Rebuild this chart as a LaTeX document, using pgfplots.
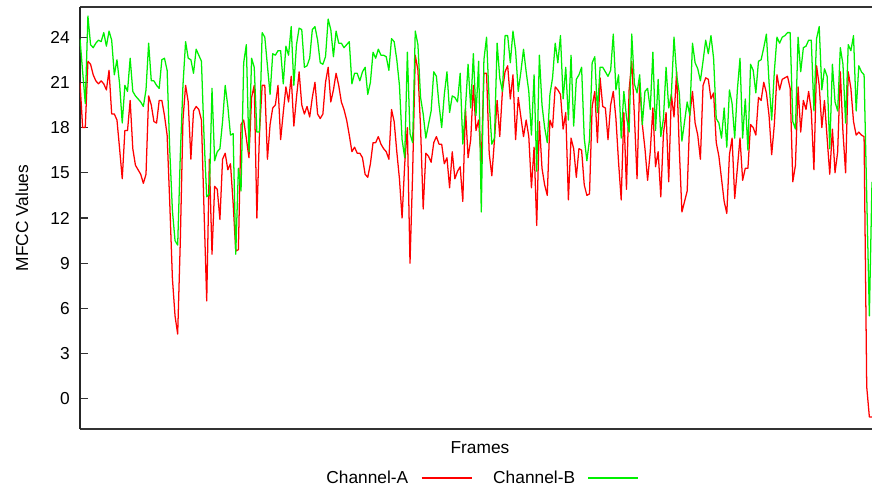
\documentclass[border=0pt]{standalone}
\usepackage{fontspec}
\setmainfont{Liberation Sans}
\usepackage{pgfplots}
\usepackage{pgfplotstable}
\pgfplotsset{compat=1.18}

\definecolor{chA}{RGB}{255,0,0}
\definecolor{chB}{RGB}{0,240,0}

% MFCC values per frame for the two channels
\pgfplotstableread{
f a b
0 21.0 23.9
1 18.0 21.7
2 18.0 19.6
3 22.4 25.4
4 22.2 23.5
5 21.5 23.3
6 21.1 23.6
7 20.9 23.8
8 21.1 23.7
9 20.9 24.3
10 20.5 23.4
11 21.8 24.4
12 18.9 23.8
13 18.9 21.5
14 18.5 22.5
15 16.6 20.9
16 14.6 18.3
17 17.8 20.8
18 17.8 20.4
19 19.8 22.6
20 16.6 20.4
21 15.5 20.1
22 15.2 19.9
23 14.9 19.7
24 14.3 19.4
25 14.9 20.5
26 20.1 23.6
27 19.5 21.1
28 18.4 21.1
29 18.3 20.8
30 19.8 20.6
31 19.8 22.5
32 18.8 22.6
33 17.5 21.8
34 13.0 16.5
35 8.0 12.5
36 5.5 10.5
37 4.3 10.2
38 10.5 16.2
39 18.5 20.8
40 20.8 23.7
41 19.7 22.6
42 15.9 22.5
43 19.1 21.6
44 19.4 23.2
45 19.2 22.8
46 18.5 22.4
47 12.4 17.3
48 6.5 13.4
49 15.9 13.6
50 9.6 20.6
51 14.1 15.8
52 13.9 16.4
53 11.9 16.6
54 15.9 18.4
55 16.3 20.8
56 15.2 19.4
57 15.6 17.5
58 13.0 17.6
59 9.8 9.6
60 9.9 15.3
61 18.2 13.8
62 18.5 22.3
63 17.3 23.5
64 16.0 16.4
65 20.0 22.6
66 20.8 22.0
67 12.0 17.7
68 17.7 17.7
69 20.8 24.3
70 20.8 24.0
71 15.9 22.1
72 18.2 20.2
73 19.3 22.9
74 19.5 22.8
75 20.8 23.1
76 17.2 23.1
77 19.0 20.9
78 20.7 23.4
79 19.7 22.8
80 21.4 24.7
81 18.1 20.8
82 20.0 23.5
83 21.7 24.6
84 19.5 24.5
85 18.9 22.0
86 19.4 22.1
87 18.7 22.6
88 20.0 24.5
89 21.0 24.7
90 18.9 23.8
91 18.6 22.3
92 18.9 22.2
93 21.0 22.7
94 22.0 25.2
95 19.7 24.5
96 20.5 22.7
97 21.6 24.4
98 20.8 23.6
99 19.7 23.6
100 19.2 23.3
101 18.5 23.5
102 17.5 23.7
103 16.4 20.9
104 16.7 21.6
105 16.3 21.6
106 16.3 21.1
107 16.0 21.7
108 14.9 22.0
109 14.7 20.2
110 15.6 21.0
111 17.0 23.0
112 17.0 22.6
113 17.4 23.2
114 16.9 22.8
115 16.6 22.8
116 16.4 22.7
117 15.9 21.8
118 19.2 23.9
119 18.4 23.7
120 16.4 22.5
121 14.6 20.8
122 12.0 17.2
123 15.6 16.0
124 18.0 23.0
125 9.0 17.6
126 15.0 17.0
127 22.8 24.4
128 21.8 23.5
129 18.0 20.0
130 12.6 18.9
131 16.3 17.3
132 16.1 18.2
133 15.7 19.1
134 17.0 21.7
135 17.4 21.4
136 16.9 19.5
137 16.9 18.0
138 15.6 20.2
139 16.0 21.7
140 14.0 19.0
141 16.4 20.1
142 14.6 20.0
143 15.1 19.7
144 15.4 21.6
145 13.1 16.9
146 19.3 19.3
147 16.0 22.2
148 17.2 19.3
149 20.8 22.9
150 17.8 18.8
151 18.5 22.4
152 15.7 12.4
153 21.6 22.5
154 21.6 24.0
155 16.3 19.7
156 14.8 16.9
157 17.2 17.3
158 19.8 23.6
159 17.4 21.3
160 20.4 20.4
161 21.7 24.1
162 22.1 24.1
163 19.9 22.3
164 21.5 24.4
165 17.2 23.1
166 20.0 20.4
167 18.7 21.7
168 17.4 23.2
169 18.5 21.7
170 17.4 20.4
171 14.0 17.5
172 16.7 21.5
173 11.5 15.1
174 18.4 22.8
175 15.3 19.5
176 14.2 18.0
177 13.5 17.0
178 18.5 20.2
179 18.0 21.3
180 20.7 23.6
181 20.5 22.3
182 20.2 24.1
183 17.9 19.9
184 19.0 22.0
185 13.2 18.5
186 17.3 22.8
187 16.6 18.1
188 14.7 21.2
189 16.6 21.5
190 16.5 22.0
191 14.2 17.3
192 13.5 15.8
193 13.6 17.2
194 19.4 22.3
195 20.4 22.7
196 17.0 19.0
197 21.3 22.0
198 19.4 22.0
199 19.3 21.7
200 17.2 21.4
201 19.5 21.8
202 20.4 24.2
203 18.6 20.5
204 15.7 21.5
205 13.2 17.3
206 19.0 20.4
207 13.9 18.7
208 20.5 17.7
209 22.4 24.2
210 18.8 20.9
211 14.6 20.3
212 21.0 21.5
213 18.2 18.2
214 16.6 20.4
215 14.5 20.6
216 16.4 19.2
217 19.3 23.0
218 15.4 17.8
219 16.4 21.2
220 13.4 17.4
221 17.6 18.6
222 19.0 22.0
223 14.4 19.3
224 20.2 20.2
225 18.7 24.0
226 21.7 21.5
227 16.6 20.3
228 12.4 17.1
229 13.1 18.4
230 13.8 19.7
231 18.8 18.8
232 20.4 23.6
233 18.3 22.3
234 17.5 21.9
235 15.9 21.1
236 20.8 22.4
237 21.3 23.8
238 21.2 22.9
239 19.9 24.1
240 20.3 22.6
241 17.0 18.6
242 16.1 18.3
243 14.6 17.3
244 13.1 19.3
245 12.3 16.7
246 16.2 20.5
247 17.3 19.6
248 13.3 17.3
249 15.3 20.5
250 17.3 22.6
251 14.5 17.3
252 15.3 19.9
253 15.3 16.5
254 18.2 22.2
255 18.0 21.8
256 17.5 20.3
257 20.0 22.4
258 19.8 22.5
259 21.0 23.3
260 20.3 24.2
261 18.8 21.0
262 16.2 18.5
263 18.2 21.7
264 21.5 24.0
265 20.5 23.6
266 21.2 24.0
267 21.3 24.1
268 21.4 24.3
269 20.6 24.3
270 14.4 18.4
271 15.5 17.9
272 20.7 24.0
273 17.7 21.7
274 19.8 23.3
275 19.2 23.4
276 20.4 23.8
277 19.1 23.8
278 15.2 19.1
279 22.1 23.9
280 20.8 24.7
281 18.0 20.5
282 19.8 21.9
283 17.3 21.4
284 14.9 16.6
285 17.9 22.2
286 15.0 19.7
287 16.4 19.1
288 21.7 23.3
289 17.7 22.2
290 15.0 18.3
291 21.7 23.5
292 20.6 23.1
293 18.4 24.1
294 17.5 19.1
295 17.7 22.1
296 17.5 21.7
297 17.4 21.5
298 0.8 13.5
299 -1.2 5.5
300 -1.2 14.4
}\mfccdata

\begin{document}
\begin{tikzpicture}
% fixed page frame: 654pt x 366.75pt
\useasboundingbox (0,0) rectangle (654pt,366.75pt);
\begin{axis}[
  at={(60pt,45pt)}, anchor=south west,
  scale only axis,
  width=594pt, height=316.5pt,
  xmin=0, xmax=300,
  ymin=-2, ymax=26,
  axis x line=box, axis y line=left,
  x axis line style={draw=black!80, line width=0.9pt},
  y axis line style={-, draw=black!85, line width=1pt},
  xtick=\empty,
  ytick={0,3,...,24},
  tick align=inside,
  major tick length=6pt,
  every tick/.style={draw=black!80, line width=0.8pt},
  font=\fontsize{13}{15}\selectfont,
  /pgf/number format/assume math mode=true,
  yticklabel style={inner sep=0pt, xshift=-7.5pt, anchor=east},
  xlabel={Frames},
  xlabel style={at={(axis description cs:0.505,-0.043)}, anchor=center, inner sep=0pt},
  ylabel={MFCC Values},
  ylabel style={at={(axis description cs:-0.0732,0.5)}, anchor=center, inner sep=0pt},
  legend columns=2,
  legend plot pos=right,
  legend style={at={(axis description cs:0.507,-0.116)}, anchor=center,
    draw=none, fill=none, inner sep=0pt,
    /tikz/every even column/.append style={column sep=13.5pt}},
  legend image code/.code={%
    \path[draw=none] (0pt,0pt) -- (45.5pt,0pt);
    \draw[#1, line width=1.4pt] (8pt,0pt) -- (45.5pt,0pt);},
  every axis plot/.append style={line width=0.95pt, line join=round},
]
\addplot[chA, no markers] table[x=f, y=a] {\mfccdata};
\addlegendentry{Channel-A}
\addplot[chB, no markers] table[x=f, y=b] {\mfccdata};
\addlegendentry{Channel-B}
\end{axis}
\end{tikzpicture}
\end{document}
